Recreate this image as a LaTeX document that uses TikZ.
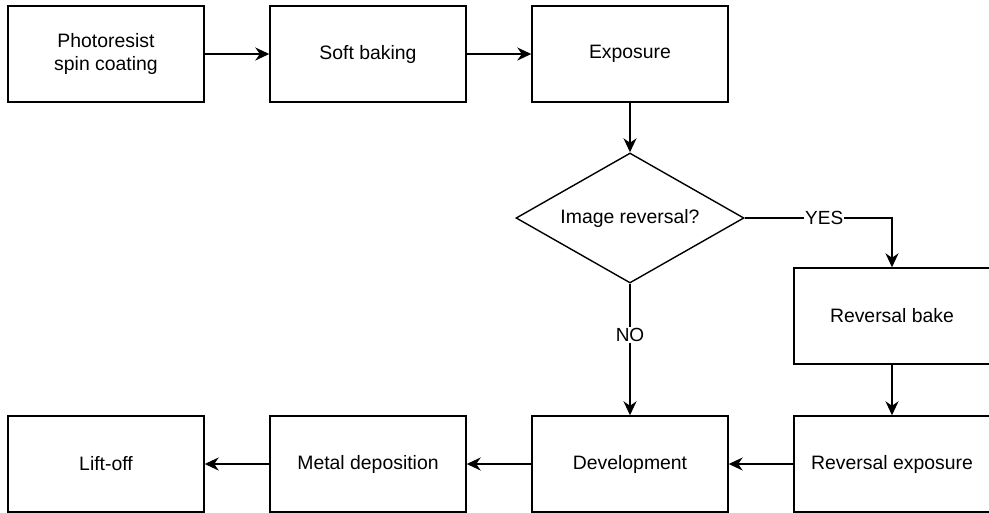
\documentclass[tikz,border=0pt]{standalone}
\usepackage{fontspec}
\setmainfont{Liberation Sans}
\usetikzlibrary{shapes.geometric,arrows.meta}

\tikzset{
  stepbox/.style={draw, line width=1.4pt, minimum width=196pt, minimum height=96pt,
    inner sep=0pt, align=center, font=\fontsize{19.4}{23.4}\selectfont},
  decision/.style={draw, diamond, aspect=1.75, line width=1.4pt, minimum width=228pt,
    minimum height=130pt, inner sep=0pt, font=\fontsize{19.4}{23.4}\selectfont},
  flow/.style={line width=1.8pt, -{Stealth[length=14pt, width=13pt, inset=4.5pt]}},
  tag/.style={fill=white, inner sep=1pt, font=\fontsize{19}{23}\selectfont}
}

\begin{document}
\begin{tikzpicture}[x=1pt, y=1pt]
  \useasboundingbox (0,0) rectangle (989,-512);
  \fill[white] (0,0) rectangle (989,-512);

  % top row
  \node[stepbox] (coat)   at (106,-54) {Photoresist\\spin coating};
  \node[stepbox] (soft)   at (368,-54) {Soft baking};
  \node[stepbox] (expo)   at (630,-54) {Exposure};

  % decision
  \node[decision] (rev)   at (630,-218) {Image reversal?};

  % reversal branch
  \node[stepbox] (rbake)  at (892,-316) {Reversal bake};

  % bottom row
  \node[stepbox] (rexpo)  at (892,-464) {Reversal exposure};
  \node[stepbox] (dev)    at (630,-464) {Development};
  \node[stepbox] (metal)  at (368,-464) {Metal deposition};
  \node[stepbox] (lift)   at (106,-464) {Lift-off};

  % connectors
  \draw[flow] (coat) -- (soft);
  \draw[flow] (soft) -- (expo);
  \draw[flow] (expo) -- (rev);
  \draw[flow] (rev.east) -| node[tag, pos=0.27] {YES} (rbake.north);
  \draw[flow] (rev.south) -- node[tag, pos=0.39] {NO} (dev.north);
  \draw[flow] (rbake) -- (rexpo);
  \draw[flow] (rexpo) -- (dev);
  \draw[flow] (dev) -- (metal);
  \draw[flow] (metal) -- (lift);
\end{tikzpicture}
\end{document}
